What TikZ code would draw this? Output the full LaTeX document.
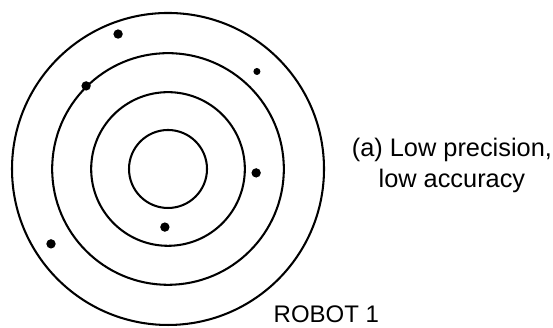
\documentclass[tikz,border=0pt]{standalone}
\usepackage{fontspec}
\setmainfont{Liberation Sans}
\usepackage{tikz}
\usetikzlibrary{positioning,calc}

\tikzset{
  ring/.style={line width=1.5pt, black},
  hit/.style={circle, fill=black, inner sep=0pt, minimum size=2.4mm},
  caption/.style={font=\fontsize{18.5}{22.6}\selectfont, align=center, inner sep=0pt}
}

\begin{document}
\begin{tikzpicture}
  \useasboundingbox (-4.308,-4.077) rectangle (9.872,4.333);
  \coordinate (target) at (0,0);
  % Rings
  \draw[ring] (target) circle (4);
  \draw[ring] (target) circle (2.97);
  \draw[ring] (target) circle (1.97);
  \draw[ring] (target) circle (1.0);
  % Hits
  \node[hit] (h1) at (-1.28,3.46) {};
  \node[hit] (h2) at (-2.10,2.13) {};
  \node[hit, minimum size=1.8mm] (h3) at (2.28,2.50) {};
  \node[hit] (h4) at (2.26,-0.10) {};
  \node[hit] (h5) at (-0.08,-1.49) {};
  \node[hit] (h6) at (-3.00,-1.92) {};
  % Labels
  \node[caption] (desc) at (7.28,0.08) {(a) Low precision,\\low accuracy};
  \node[caption, font=\fontsize{17.5}{21}\selectfont, anchor=base] (robot) at (4.06,-3.94) {ROBOT 1};
\end{tikzpicture}
\end{document}
